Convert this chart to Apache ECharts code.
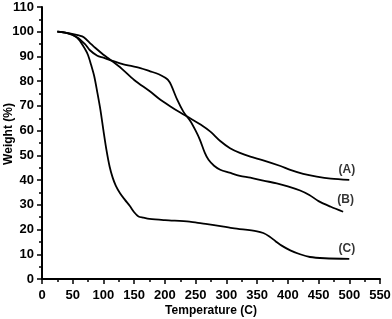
<!DOCTYPE html>
<html><head><meta charset="utf-8">
<script src="https://cdn.jsdelivr.net/npm/echarts@6/dist/echarts.min.js"></script>
<style>html,body{margin:0;padding:0;background:#fff}#c{width:392px;height:319px}</style>
</head><body><div id="c"></div>
<script>
var seriesA = [[25,100],[45,99.3],[60,98.5],[68,97.8],[80,95],[87,93.4],[100,90.7],[111,88.7],[130,85],[150,80.5],[176,75.8],[190,73],[209,69.8],[225,67.3],[241,65],[258,62.5],[274,59.6],[290,55.8],[306,52.9],[322,51],[339,49.5],[360,48],[388,45.7],[404,44.1],[425,42.5],[447,41.4],[470,40.6],[500,40.1]];
var seriesB = [[25,100],[40,99.5],[57,97.8],[70,95],[78,92.5],[90,90.3],[100,89.5],[111,88.5],[130,87],[160,85.3],[176,84],[190,82.8],[200,81.5],[205,80.5],[210,78.5],[220,72.5],[230,67.7],[241,64],[250,60],[257,56.3],[265,51],[271,48.2],[280,45.8],[290,44.2],[305,43],[322,41.7],[339,41],[360,39.8],[382,38.7],[400,37.5],[420,35.8],[435,34],[450,31.5],[470,29.2],[490,27.2]];
var seriesC = [[25,100],[40,99.5],[50,98.8],[60,96.8],[70,93],[75,90.5],[80,86.5],[85,82],[90,75.5],[95,68.5],[100,60],[105,52],[110,45.5],[115,41],[120,37.8],[127,34.7],[135,32],[143,29.5],[150,27],[157,25.3],[165,24.8],[175,24.3],[200,23.8],[240,23.2],[260,22.5],[280,21.8],[310,20.6],[350,19.3],[360,18.6],[370,17.2],[380,15.3],[390,13.5],[404,11.6],[420,10],[436,8.9],[460,8.4],[500,8.1]];
var curveLabels = [[496,44.3,'(A)'],[494,32,'(B)'],[496,12.4,'(C)']];
var xTicks = {min:0,max:550,interval:50};
var yTicks = {min:0,max:110,interval:10};

var chart = echarts.init(document.getElementById('c'));
var FF = '"Liberation Sans", Arial, sans-serif';
var lineStyle = {color:'#000',width:1.8};
function mk(d){return {type:'line',data:d,smooth:0.3,showSymbol:false,lineStyle:lineStyle,itemStyle:{color:'#000'},silent:true};}
function axisFont(m){return {margin:m,fontFamily:FF,fontWeight:700,fontSize:13,color:'#000'};}
chart.setOption({
  animation:false,
  grid:{left:42,right:12,top:7,bottom:40,containLabel:false,outerBoundsMode:'none'},
  xAxis:{type:'value',min:xTicks.min,max:xTicks.max,interval:xTicks.interval,
    name:'Temperature (C)',nameLocation:'middle',nameGap:26,nameMoveOverlap:false,
    nameTextStyle:{fontFamily:FF,fontWeight:700,fontSize:12,color:'#000'},
    axisLine:{lineStyle:{color:'#000',width:2}},
    axisTick:{inside:false,length:5,lineStyle:{color:'#000',width:1.5}},
    minorTick:{show:true,splitNumber:2,length:3,lineStyle:{color:'#000',width:1.5}},
    splitLine:{show:false},
    axisLabel:axisFont(10)},
  yAxis:{type:'value',min:yTicks.min,max:yTicks.max,interval:yTicks.interval,
    name:'Weight (%)',nameLocation:'middle',nameGap:27,nameMoveOverlap:false,
    nameTextStyle:{fontFamily:FF,fontWeight:700,fontSize:12,color:'#000',padding:[0,0,0,18]},
    axisLine:{show:true,lineStyle:{color:'#000',width:2}},
    axisTick:{show:true,inside:false,length:5,lineStyle:{color:'#000',width:1.5}},
    minorTick:{show:true,splitNumber:2,length:3,lineStyle:{color:'#000',width:1.5}},
    splitLine:{show:false},
    axisLabel:axisFont(8)},
  series:[mk(seriesA),mk(seriesB),mk(seriesC),
    {type:'scatter',symbolSize:0,silent:true,
     data:curveLabels.map(function(l){return {value:[l[0],l[1]],label:{show:true,formatter:l[2],position:'inside',
       fontFamily:FF,fontWeight:700,fontSize:12,color:'#000'}};})}
  ]
});
</script></body></html>
